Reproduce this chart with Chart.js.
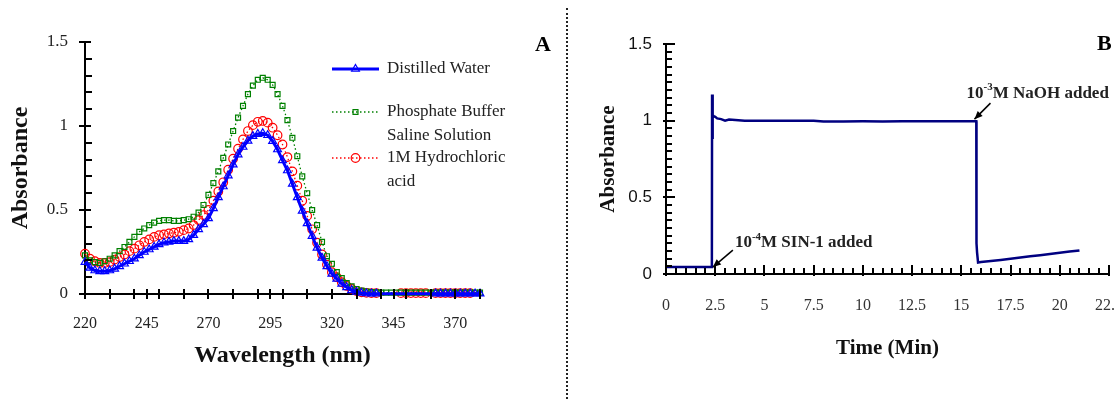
<!DOCTYPE html>
<html>
<head>
<meta charset="utf-8">
<script src="https://cdn.jsdelivr.net/npm/chart.js@4.4.1/dist/chart.umd.min.js"></script>
<style>
  html, body { margin: 0; padding: 0; background: #fff; }
  body { width: 1115px; height: 399px; position: relative; overflow: hidden; }
  canvas { position: absolute; top: 0; }
  #chartA { left: 0; }
  #chartB { left: 575px; }
  .divider { position: absolute; left: 566px; top: 8px; height: 391px; border-left: 2px dotted #222; }
  .panel { position: absolute; font: bold 22px "Liberation Serif", serif; color: #000; }
</style>
</head>
<body>
<canvas id="chartA" width="560" height="399"></canvas>
<div class="divider"></div>
<canvas id="chartB" width="540" height="399"></canvas>
<div class="panel" style="left:535px; top:31px;">A</div>
<div class="panel" style="left:1097px; top:30px;">B</div>
<script>
// ---- panel A: absorbance spectra ----
const wavelength = [220, 222, 224, 226, 228, 230, 232, 234, 236, 238,
  240, 242, 244, 246, 248, 250, 252, 254, 256, 258,
  260, 262, 264, 266, 268, 270, 272, 274, 276, 278,
  280, 282, 284, 286, 288, 290, 292, 294, 296, 298,
  300, 302, 304, 306, 308, 310, 312, 314, 316, 318,
  320, 322, 324, 326, 328, 330, 332, 334, 336, 338,
  340, 342, 344, 346, 348, 350, 352, 354, 356, 358,
  360, 362, 364, 366, 368, 370, 372, 374, 376, 378, 380];

const distilledWater = [0.19, 0.155, 0.14, 0.135, 0.135, 0.14, 0.15, 0.165, 0.18, 0.195,
  0.21, 0.23, 0.25, 0.265, 0.28, 0.295, 0.305, 0.31, 0.315, 0.315,
  0.315, 0.325, 0.35, 0.385, 0.415, 0.45, 0.51, 0.575, 0.64, 0.705,
  0.77, 0.83, 0.875, 0.912, 0.94, 0.952, 0.957, 0.945, 0.91, 0.86,
  0.795, 0.735, 0.655, 0.575, 0.495, 0.42, 0.345, 0.275, 0.215, 0.165,
  0.12, 0.09, 0.06, 0.04, 0.022, 0.012, 0.006, 0.003, 0.002, 0.002,
  null, null, null, null, null, null, null, null, null, null,
  null, 0.002, 0.002, 0.002, 0.002, 0.002, 0.002, 0.002, 0.002, 0.002, 0.002];

const pbsSaline = [0.23, 0.2, 0.19, 0.185, 0.195, 0.21, 0.23, 0.255, 0.28, 0.31,
  0.34, 0.37, 0.39, 0.41, 0.425, 0.435, 0.44, 0.44, 0.435, 0.435,
  0.44, 0.445, 0.46, 0.485, 0.53, 0.59, 0.66, 0.73, 0.81, 0.89,
  0.97, 1.05, 1.12, 1.19, 1.24, 1.275, 1.287, 1.275, 1.245, 1.19,
  1.12, 1.035, 0.93, 0.82, 0.7, 0.6, 0.5, 0.41, 0.31, 0.225,
  0.18, 0.13, 0.095, 0.065, 0.045, 0.03, 0.02, 0.015, 0.012, 0.01,
  0.008, 0.008, 0.008, 0.008, 0.008, 0.008, 0.008, 0.008, 0.008, 0.008,
  0.008, 0.008, 0.008, 0.008, 0.008, 0.008, 0.008, 0.008, 0.008, 0.008, 0.008];

const hclAcid = [0.24, 0.21, 0.195, 0.185, 0.185, 0.19, 0.205, 0.22, 0.235, 0.255,
  0.27, 0.29, 0.31, 0.325, 0.34, 0.35, 0.355, 0.36, 0.365, 0.37,
  0.38, 0.39, 0.41, 0.44, 0.47, 0.5, 0.555, 0.61, 0.665, 0.74,
  0.805, 0.865, 0.92, 0.97, 1.005, 1.025, 1.03, 1.02, 0.99, 0.945,
  0.89, 0.815, 0.73, 0.645, 0.555, 0.465, 0.385, 0.305, 0.235, 0.175,
  0.13, 0.1, 0.07, 0.048, 0.03, 0.018, 0.01, 0.007, 0.005, 0.005,
  null, null, null, null, 0.005, 0.005, 0.005, 0.005, 0.005, 0.005,
  null, 0.005, 0.005, 0.005, 0.005, 0.005, 0.005, 0.005, 0.005, null, null];

const seriesNamesA = ['Distilled Water', 'Phosphate Buffer\nSaline Solution', '1M Hydrochloric\nacid'];
const xLabelsA = [220, 245, 270, 295, 320, 345, 370];
const yLabels = [0, 0.5, 1, 1.5];

// ---- panel B: absorbance over time ----
const timeMin = [0, 0.5, 1, 1.5, 2, 2.32, 2.33, 2.34, 2.36, 2.38,
  2.42, 2.5, 2.6, 2.8, 3.0, 3.2, 4, 5, 6, 7,
  7.5, 8, 9, 10, 11, 12, 13, 14, 15, 15.5,
  15.76, 15.77, 15.8, 15.85, 16, 16.5, 17, 17.5, 18, 18.5,
  19, 19.5, 20, 20.5, 21];
const absorbanceB = [0.045, 0.045, 0.045, 0.045, 0.045, 0.045, 0.05, 1.17, 0.88, 1.035,
  1.03, 1.025, 1.015, 1.01, 1.0, 1.008, 1.0, 1.0, 1.0, 1.0,
  1.0, 0.995, 0.995, 0.996, 0.995, 0.996, 0.997, 0.996, 0.996, 0.997,
  0.997, 0.2, 0.14, 0.075, 0.078, 0.085, 0.092, 0.1, 0.108, 0.115,
  0.122, 0.13, 0.138, 0.146, 0.154];
const xLabelsB = [0, 2.5, 5, 7.5, 10, 12.5, 15, 17.5, 20, 22.5];

const sinNote = { at: [2.33, 0.045], base: '10', sup: '-4', rest: 'M SIN-1 added' };
const naohNote = { at: [15.77, 0.997], base: '10', sup: '-3', rest: 'M NaOH added' };

const serif = '"Liberation Serif", "Times New Roman", serif';
const isLabel = (list, v) => list.some(l => Math.abs(l - v) < 1e-6);

// tick marks drawn through the scale so they can cross the axis line
const tickMarks = {
  id: 'tickMarks',
  afterDraw(chart, args, opts) {
    const ctx = chart.ctx;
    const area = chart.chartArea;
    ctx.save();
    ctx.strokeStyle = '#000';
    ctx.lineWidth = 2;
    Object.keys(opts.axes || {}).forEach(id => {
      const scale = chart.scales[id];
      const spec = opts.axes[id];
      scale.ticks.forEach(t => {
        const kind = spec.kind(t.value);
        if (!kind) return;
        const [out, inn] = spec[kind];
        const p = Math.round(scale.getPixelForValue(t.value));
        ctx.beginPath();
        if (scale.isHorizontal()) {
          ctx.moveTo(p, area.bottom + out);
          ctx.lineTo(p, area.bottom - inn);
        } else {
          ctx.moveTo(area.left - out, p);
          ctx.lineTo(area.left + inn, p);
        }
        ctx.stroke();
      });
    });
    ctx.restore();
  }
};

// legend with line + marker and wrapped names
const sideLegend = {
  id: 'sideLegend',
  afterDraw(chart, args, opts) {
    if (!opts.rows) return;
    const ctx = chart.ctx;
    chart.data.datasets.forEach((ds, i) => {
      const y = opts.rows[i];
      ctx.save();
      ctx.strokeStyle = ds.borderColor;
      ctx.lineWidth = ds.borderWidth;
      ctx.setLineDash(ds.borderDash || []);
      ctx.beginPath();
      ctx.moveTo(opts.x0, y);
      ctx.lineTo(opts.x1, y);
      ctx.stroke();
      ctx.setLineDash([]);
      ctx.lineWidth = ds.pointBorderWidth;
      ctx.fillStyle = 'rgba(0,0,0,0)';
      Chart.helpers.drawPoint(ctx, { pointStyle: ds.pointStyle, radius: ds.pointRadius, borderWidth: ds.pointBorderWidth, rotation: 0 }, (opts.x0 + opts.x1) / 2, y);
      ctx.fillStyle = '#222';
      ctx.font = '17px ' + serif;
      ctx.textBaseline = 'middle';
      ds.label.split('\n').forEach((line, j) => ctx.fillText(line, opts.textX, y + j * 24));
      ctx.restore();
    });
  }
};

// arrows with superscripted notes for panel B
const arrowNotes = {
  id: 'arrowNotes',
  afterDraw(chart, args, opts) {
    if (!opts.notes) return;
    const ctx = chart.ctx;
    const xs = chart.scales.x, ys = chart.scales.y;
    opts.notes.forEach(n => {
      const ax = xs.getPixelForValue(n.note.at[0]);
      const ay = ys.getPixelForValue(n.note.at[1]);
      const tipX = ax + n.tip[0], tipY = ay + n.tip[1];
      const tailX = ax + n.tail[0], tailY = ay + n.tail[1];
      ctx.save();
      ctx.strokeStyle = '#000';
      ctx.fillStyle = '#000';
      ctx.lineWidth = 1.5;
      ctx.beginPath();
      ctx.moveTo(tailX, tailY);
      ctx.lineTo(tipX, tipY);
      ctx.stroke();
      const ang = Math.atan2(tipY - tailY, tipX - tailX);
      ctx.beginPath();
      ctx.moveTo(tipX, tipY);
      ctx.lineTo(tipX - 8 * Math.cos(ang) + 3.5 * Math.sin(ang), tipY - 8 * Math.sin(ang) - 3.5 * Math.cos(ang));
      ctx.lineTo(tipX - 8 * Math.cos(ang) - 3.5 * Math.sin(ang), tipY - 8 * Math.sin(ang) + 3.5 * Math.cos(ang));
      ctx.closePath();
      ctx.fill();
      let x = ax + n.text[0];
      const y = ay + n.text[1];
      ctx.fillStyle = '#222';
      ctx.textBaseline = 'middle';
      ctx.font = 'bold 17px ' + serif;
      ctx.fillText(n.note.base, x, y);
      x += ctx.measureText(n.note.base).width;
      ctx.font = 'bold 11px ' + serif;
      ctx.fillText(n.note.sup, x, y - 6);
      x += ctx.measureText(n.note.sup).width;
      ctx.font = 'bold 17px ' + serif;
      ctx.fillText(n.note.rest, x, y);
      ctx.restore();
    });
  }
};

const toPoints = (xs, ys) => xs.map((x, i) => ({ x: x, y: ys[i] }));

new Chart(document.getElementById('chartA'), {
  type: 'line',
  data: {
    datasets: [
      {
        label: seriesNamesA[0], data: toPoints(wavelength, distilledWater),
        borderColor: '#0000ff', borderWidth: 3, pointStyle: 'triangle', pointRadius: 4.5,
        pointBorderWidth: 1.2, pointBackgroundColor: 'rgba(0,0,0,0)', pointBorderColor: '#0000ff',
        spanGaps: true, clip: false
      },
      {
        label: seriesNamesA[1], data: toPoints(wavelength, pbsSaline),
        borderColor: '#008000', borderWidth: 1.3, borderDash: [1.5, 2.5], pointStyle: 'rect', pointRadius: 3.5,
        pointBorderWidth: 1.2, pointBackgroundColor: 'rgba(0,0,0,0)', pointBorderColor: '#008000',
        spanGaps: true, clip: false
      },
      {
        label: seriesNamesA[2], data: toPoints(wavelength, hclAcid),
        borderColor: '#ff0000', borderWidth: 1.3, borderDash: [1.5, 2.5], pointStyle: 'circle', pointRadius: 4.3,
        pointBorderWidth: 1.2, pointBackgroundColor: 'rgba(0,0,0,0)', pointBorderColor: '#ff0000',
        spanGaps: true, clip: false
      }
    ]
  },
  options: {
    responsive: false,
    animation: false,
    devicePixelRatio: 1,
    layout: { padding: { left: 0, top: 42, right: 80, bottom: 0 } },
    plugins: {
      legend: { display: false },
      tooltip: { enabled: false },
      sideLegend: { rows: [69, 112, 158], x0: 332, x1: 379, textX: 387 },
      tickMarks: {
        axes: {
          x: { kind: v => (v % 10 === 0 || isLabel(xLabelsA, v)) ? 'major' : null, major: [5, 5] },
          y: { kind: v => isLabel(yLabels, v) ? 'major' : 'minor', major: [6, 6], minor: [0, 7] }
        }
      }
    },
    scales: {
      x: {
        type: 'linear', min: 220, max: 380,
        afterFit: s => { s.height = 105; s.paddingLeft = 0; s.paddingRight = 0; },
        border: { color: '#000', width: 2 },
        grid: { drawOnChartArea: false, drawTicks: false },
        ticks: {
          stepSize: 5, autoSkip: false, maxRotation: 0, padding: 20, color: '#222',
          font: { family: serif, size: 16 },
          callback: v => isLabel(xLabelsA, v) ? String(v) : ''
        },
        title: {
          display: true, text: 'Wavelength (nm)', color: '#111',
          font: { family: serif, size: 24, weight: 'bold' }, padding: { top: 0, bottom: 29 }
        }
      },
      y: {
        min: 0, max: 1.5,
        afterFit: s => { s.width = 85; s.paddingTop = 0; s.paddingBottom = 0; },
        border: { color: '#000', width: 2 },
        grid: { drawOnChartArea: false, drawTicks: false },
        ticks: {
          stepSize: 0.1, autoSkip: false, padding: 17, color: '#222',
          font: { family: serif, size: 17 },
          callback: v => isLabel(yLabels, v) ? String(+v.toFixed(1)) : ''
        },
        title: {
          display: true, text: 'Absorbance', color: '#111',
          font: { family: serif, size: 24, weight: 'bold' }, padding: { top: 6, bottom: 0 }
        }
      }
    }
  },
  plugins: [tickMarks, sideLegend]
});

new Chart(document.getElementById('chartB'), {
  type: 'line',
  data: {
    datasets: [{
      label: 'Absorbance', data: toPoints(timeMin, absorbanceB),
      borderColor: '#000080', borderWidth: 2.5, pointRadius: 0, tension: 0
    }]
  },
  options: {
    responsive: false,
    animation: false,
    devicePixelRatio: 1,
    layout: { padding: { left: 0, top: 44, right: 6, bottom: 0 } },
    plugins: {
      legend: { display: false },
      tooltip: { enabled: false },
      arrowNotes: {
        notes: [
          { note: sinNote, tip: [1, 0], tail: [21, -17], text: [23, -24] },
          { note: naohNote, tip: [-2, -2], tail: [14, -18], text: [-10, -28] }
        ]
      },
      tickMarks: {
        axes: {
          x: { kind: v => isLabel(xLabelsB, v) ? 'major' : 'minor', major: [2, 9], minor: [0, 6] },
          y: { kind: v => isLabel(yLabels, v) ? 'major' : 'minor', major: [3, 9], minor: [0, 6] }
        }
      }
    },
    scales: {
      x: {
        type: 'linear', min: 0, max: 22.5,
        afterFit: s => { s.height = 125; s.paddingLeft = 0; s.paddingRight = 0; },
        border: { color: '#000', width: 2 },
        grid: { drawOnChartArea: false, drawTicks: false },
        ticks: {
          stepSize: 0.5, autoSkip: false, maxRotation: 0, padding: 22, color: '#333',
          font: { family: serif, size: 16 },
          callback: v => isLabel(xLabelsB, v) ? String(+v.toFixed(1)) : ''
        },
        title: {
          display: true, text: 'Time (Min)', color: '#111',
          font: { family: serif, size: 21, weight: 'bold' }, padding: { top: 0, bottom: 38 }
        }
      },
      y: {
        min: 0, max: 1.5,
        afterFit: s => { s.width = 91; s.paddingTop = 0; s.paddingBottom = 0; },
        border: { color: '#000', width: 2 },
        grid: { drawOnChartArea: false, drawTicks: false },
        ticks: {
          stepSize: 0.05, autoSkip: false, padding: 14, color: '#111',
          font: { family: '"Liberation Sans", Arial, sans-serif', size: 17 },
          callback: v => isLabel(yLabels, v) ? String(+v.toFixed(1)) : ''
        },
        title: {
          display: true, text: 'Absorbance', color: '#111',
          font: { family: serif, size: 21, weight: 'bold' }, padding: { top: 21, bottom: 0 }
        }
      }
    }
  },
  plugins: [tickMarks, arrowNotes]
});
</script>
</body>
</html>
